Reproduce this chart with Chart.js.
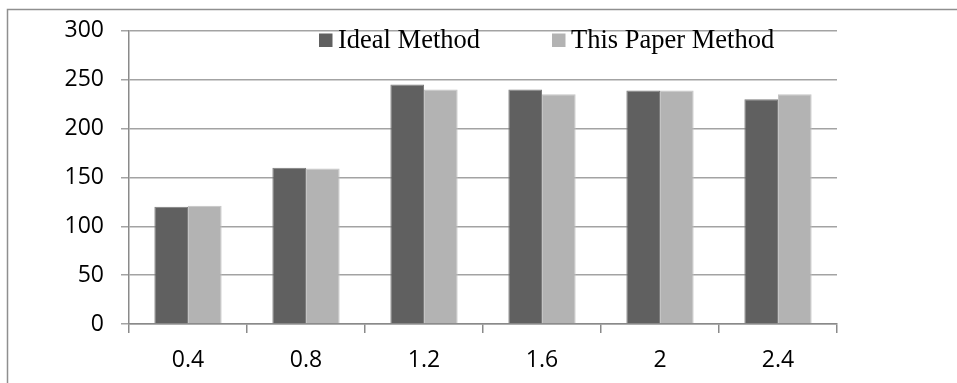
<!DOCTYPE html>
<html>
<head>
<meta charset="utf-8">
<script src="https://cdn.jsdelivr.net/npm/chart.js@4/dist/chart.umd.min.js"></script>
<style>
  html, body { margin: 0; padding: 0; background: #ffffff; }
  #wrap { width: 957px; height: 383px; position: relative; }
</style>
</head>
<body>
<div id="wrap"><canvas id="c" width="957" height="383"></canvas></div>
<script>
// Categories along the horizontal axis
const categories = ['0.4', '0.8', '1.2', '1.6', '2', '2.4'];

// Series values
const idealMethod = [120, 160, 245, 240, 239, 230];
const thisPaperMethod = [121, 159, 240, 235, 239, 235];

// Value axis ticks
const yTicks = [0, 50, 100, 150, 200, 250, 300];

const seriesNames = ['Ideal Method', 'This Paper Method'];
const seriesColors = ['#606060', '#b3b3b3'];
const seriesEdges = ['#7c7c7c', '#c4c4c4'];

// Outer frame: left and top edges only
const framePlugin = {
  id: 'frame',
  beforeDraw(chart) {
    const ctx = chart.ctx;
    ctx.save();
    ctx.strokeStyle = '#8f8f8f';
    ctx.lineWidth = 1.5;
    ctx.beginPath();
    ctx.moveTo(7.5, chart.height);
    ctx.lineTo(7.5, 9.5);
    ctx.lineTo(chart.width, 9.5);
    ctx.stroke();
    ctx.restore();
  }
};

// Legend drawn inside the plot, near the top
const insideLegend = {
  id: 'insideLegend',
  afterDraw(chart) {
    const ctx = chart.ctx;
    const itemX = [319, 552];
    const boxSize = 13.5;
    const boxTop = 33.5;
    ctx.save();
    ctx.font = '26.5px "Liberation Serif", "Times New Roman", serif';
    ctx.textBaseline = 'alphabetic';
    ctx.textAlign = 'left';
    chart.data.datasets.forEach((ds, i) => {
      ctx.fillStyle = ds.backgroundColor;
      ctx.fillRect(itemX[i], boxTop, boxSize, boxSize);
      ctx.fillStyle = '#000000';
      ctx.fillText(ds.label, itemX[i] + 19, 48);
    });
    ctx.restore();
  }
};

const tickFont = { family: '"Open Sans", "Liberation Sans", sans-serif', size: 23 };

new Chart(document.getElementById('c'), {
  type: 'bar',
  data: {
    labels: categories,
    datasets: [
      {
        label: seriesNames[0],
        data: idealMethod,
        backgroundColor: seriesColors[0],
        borderColor: seriesEdges[0],
        borderWidth: 1
      },
      {
        label: seriesNames[1],
        data: thisPaperMethod,
        backgroundColor: seriesColors[1],
        borderColor: seriesEdges[1],
        borderWidth: 1
      }
    ]
  },
  options: {
    responsive: false,
    animation: false,
    devicePixelRatio: 1,
    layout: { padding: { left: 0, right: 120, top: 30, bottom: 0 } },
    datasets: {
      bar: { categoryPercentage: 0.57, barPercentage: 1.0 }
    },
    plugins: {
      legend: { display: false },
      tooltip: { enabled: false },
      title: { display: false }
    },
    scales: {
      x: {
        offset: true,
        grid: {
          offset: true,
          drawOnChartArea: false,
          drawTicks: true,
          tickLength: 9,
          color: '#8a8a8a',
          lineWidth: 1.5
        },
        border: { display: true, color: '#8a8a8a', width: 1.5 },
        ticks: {
          color: '#000000',
          padding: 14,
          font: tickFont,
          maxRotation: 0
        },
        afterFit(scale) { scale.height = 59; }
      },
      y: {
        min: 0,
        max: 300,
        afterBuildTicks(scale) { scale.ticks = yTicks.map(v => ({ value: v })); },
        grid: {
          color: '#a3a3a3',
          lineWidth: 1.5,
          drawTicks: true,
          tickLength: 8
        },
        border: { display: true, color: '#8a8a8a', width: 1.5 },
        ticks: {
          color: '#000000',
          padding: 17,
          font: tickFont
        },
        afterFit(scale) { scale.width = 129; }
      }
    }
  },
  plugins: [framePlugin, insideLegend]
});
</script>
</body>
</html>
